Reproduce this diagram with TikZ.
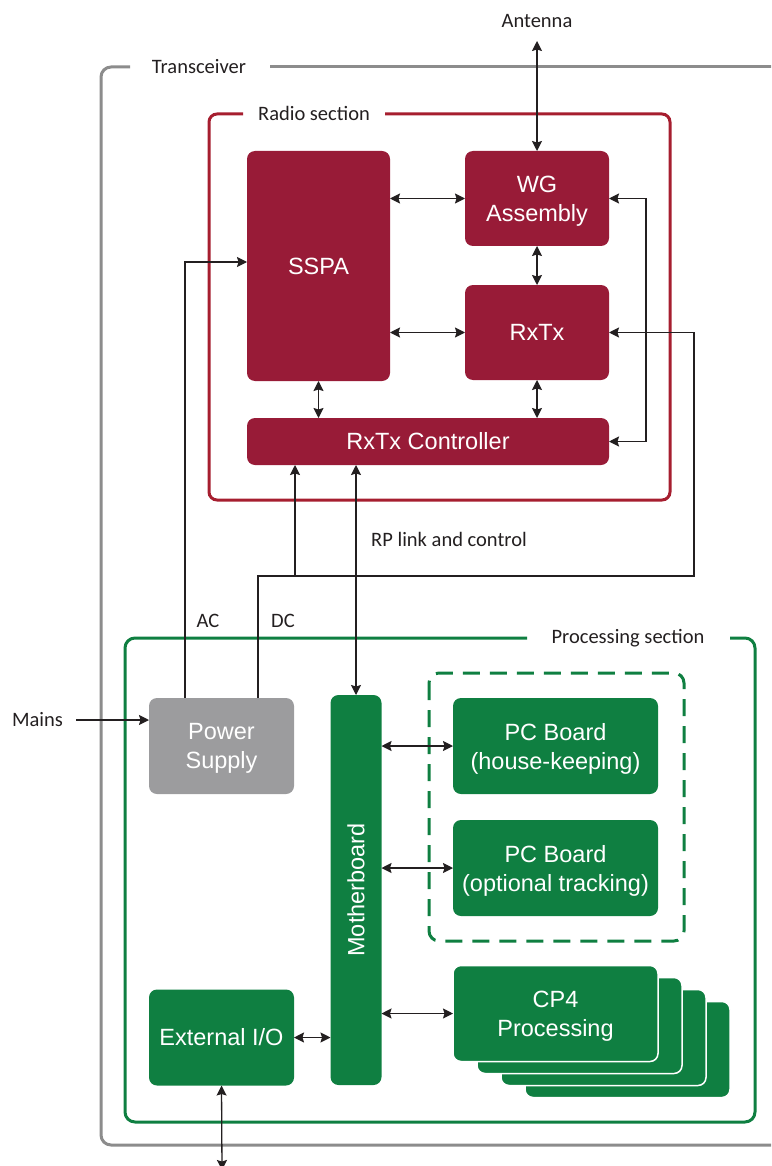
\documentclass[tikz,border=0pt]{standalone}
\usepackage{fontspec}
\setmainfont{Liberation Sans}
\newfontfamily\labfont{Carlito}
\usetikzlibrary{arrows.meta}
\definecolor{radred}{HTML}{981B37}
\definecolor{framered}{HTML}{A61E2F}
\definecolor{procgreen}{HTML}{0F7F41}
\definecolor{framegray}{HTML}{8C8C8C}
\definecolor{psgray}{HTML}{9C9C9E}
\definecolor{ink}{HTML}{231F20}
\begin{document}
\begin{tikzpicture}[x=1pt,y=-1pt,
  box/.style={rectangle, rounded corners=8pt, inner sep=0pt, outer sep=0pt, text=white,
    font=\fontsize{23.5}{29}\selectfont, align=center},
  twoline/.style={text depth=0pt},
  redbox/.style={box, fill=radred},
  greenbox/.style={box, fill=procgreen},
  graybox/.style={box, fill=psgray},
  conn/.style={draw=ink, line width=1.3pt},
  both/.style={conn, {Stealth[length=10pt,width=10pt,inset=1.5pt]}-{Stealth[length=10pt,width=10pt,inset=1.5pt]}},
  one/.style={conn, -{Stealth[length=10pt,width=10pt,inset=1.5pt]}},
  lab/.style={text=ink, font=\labfont\fontsize{20.5}{24}\selectfont, inner sep=0pt},
  frame/.style={line width=3pt, rounded corners=10pt}]
\useasboundingbox (0,0) rectangle (771,1166);
\clip (0,0) rectangle (771,1166);

% frames
\draw[frame, framegray] (130,67) -- (101,67) -- (101,1145) -- (790,1145);
\draw[frame, framegray] (270,67) -- (790,67);
\node[lab] (trlab) at (199,67) {Transceiver};

\draw[frame, framered, rounded corners=8pt] (243,114) -- (209,114) -- (209,500) -- (670,500) -- (670,114) -- (385,114);
\node[lab] (radlab) at (314,113) {Radio section};

\draw[frame, procgreen] (527,638) -- (125,638) -- (125,1122) -- (755,1122) -- (755,638) -- (730,638);
\node[lab] (proclab) at (628,638) {Processing section};

\draw[procgreen, line width=3pt, dash pattern=on 17pt off 10pt, rounded corners=10pt] (429,673) rectangle (684,941);

% boxes
\node[redbox, minimum width=143pt, minimum height=230pt] (sspa) at (318.5,266) {SSPA};
\node[redbox, twoline, minimum width=144pt, minimum height=95pt] (wg) at (537,198.5) {WG\\Assembly};
\node[redbox, minimum width=144pt, minimum height=95pt] (rxtx) at (537,332.5) {RxTx};
\node[redbox, minimum width=362pt, minimum height=47pt] (ctrl) at (428,441.5) {RxTx Controller};
\node[graybox, twoline, minimum width=145pt, minimum height=96pt] (ps) at (221.5,746) {Power\\Supply};
\node[greenbox, minimum width=51pt, minimum height=390pt] (mb) at (356,890) {};
\node[rotate=90, text=white, inner sep=0pt, font=\fontsize{23.5}{29}\selectfont] (mbtxt) at (mb.center) {Motherboard};
\node[greenbox, twoline, minimum width=205pt, minimum height=96pt] (pc1) at (555.5,746) {PC Board\\(house-keeping)};
\node[greenbox, twoline, minimum width=205pt, minimum height=96pt] (pc2) at (555.5,868) {PC Board\\(optional tracking)};
\node[greenbox, minimum width=145pt, minimum height=96pt] (eio) at (221.5,1037.5) {External I/O};
\foreach \k in {3,2,1}
  \node[greenbox, draw=white, line width=1.5pt, minimum width=205pt, minimum height=96pt] (cp\k) at (555.5+24*\k,1013.5+12*\k) {};
\node[greenbox, twoline, draw=white, line width=1.5pt, minimum width=205pt, minimum height=96pt] (cp4) at (555.5,1013.5) {CP4\\Processing};

% labels
\node[lab] (antlab) at (537,21) {Antenna};
\node[lab] (aclab) at (208,621) {AC};
\node[lab] (dclab) at (283,621) {DC};
\node[lab] (rplab) at (449,539) {RP link and control};
\node[lab] (mains) at (37.5,720) {Mains};

% connectors
\coordinate (antend) at (537,41);
\draw[both] (antend) -- (wg.north);
\draw[both] (sspa.east |- wg.west) -- (wg.west);
\draw[both] (sspa.east |- rxtx.west) -- (rxtx.west);
\draw[both] (wg.south) -- (rxtx.north);
\draw[both] (rxtx.south) -- (rxtx.south |- ctrl.north);
\draw[both] (sspa.south) -- (sspa.south |- ctrl.north);
\draw[both] (wg.east) -- ++(37,0) |- (ctrl.east);

\coordinate (dcx) at (258,0);
\coordinate (dcy) at (0,576);
\coordinate (dcr) at (694,0);
\coordinate (brx) at (295,0);
\draw[one] (ps.north -| dcx) |- (dcr |- dcy) |- (rxtx.east);
\draw[one] (brx |- dcy) -- (brx |- ctrl.south);

\coordinate (acx) at (185,0);
\coordinate (acy) at (0,262);
\draw[one] (ps.north -| acx) |- (sspa.west |- acy);

\draw[both] (ctrl.south -| mb.north) -- (mb.north);
\draw[one] ([xshift=13pt]mains.east) -- (ps.west |- mains.east);

\draw[both] (mb.east |- pc1.west) -- (pc1.west);
\draw[both] (mb.east |- pc2.west) -- (pc2.west);
\draw[both] (mb.east |- cp4.west) -- (cp4.west);
\draw[both] (eio.east) -- (mb.west |- eio.east);
\coordinate (ioend) at (222,1170);
\draw[both] (eio.south) -- (ioend);
\end{tikzpicture}
\end{document}
